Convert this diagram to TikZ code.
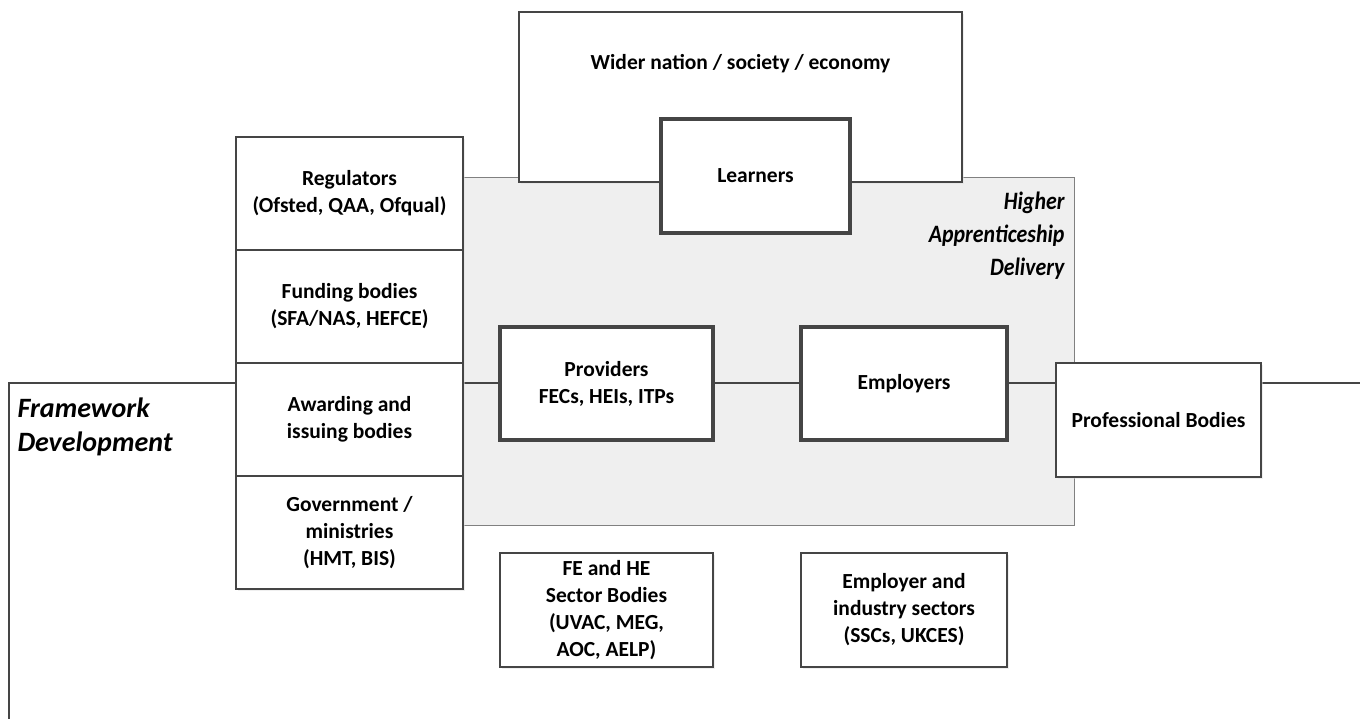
\documentclass[tikz,border=0pt]{standalone}
\usepackage{fontspec}
\setmainfont{Carlito}
\newfontfamily\narrowfont{Carlito}[FakeStretch=0.875]
\usetikzlibrary{shapes,shadows}
\definecolor{edgegray}{HTML}{454545}
\definecolor{areagray}{HTML}{EFEFEF}
\tikzset{
	box/.style      = {draw=edgegray, line width=1.6pt, fill=white, rectangle, align=center,
		font=\fontsize{21.5}{27}\selectfont\bfseries,
		drop shadow={shadow xshift=2pt, shadow yshift=-2pt, fill=black!12}},
	keybox/.style   = {box, line width=4pt},
	area/.style     = {draw=gray, line width=1pt, fill=areagray},
	title/.style    = {font=\narrowfont\fontsize{25}{33}\selectfont\bfseries\itshape},
	bigtitle/.style = {font=\fontsize{28}{34}\selectfont\bfseries\itshape}
}

\begin{document}
\begin{tikzpicture}[x=1pt, y=-1pt]
	\clip (0,0) rectangle (1360,718);
	\draw
	node at (757,351)[area, minimum width=634pt, minimum height=348pt] (deliv) {}
	node at (704,571)[draw=edgegray, line width=1.4pt, minimum width=1390pt, minimum height=376pt] (frame) {}
	;
	
	\draw
	node at (740.5,97)[box, minimum width=443pt, minimum height=170pt, text depth=70pt] (wider) {Wider nation / society / economy}
	node at (349.5,193.5)[box, minimum width=227pt, minimum height=113pt] (reg) {Regulators\\(Ofsted, QAA, Ofqual)}
	node at (349.5,306.5)[box, minimum width=227pt, minimum height=113pt] (fund) {Funding bodies\\(SFA/NAS, HEFCE)}
	node at (349.5,419.5)[box, minimum width=227pt, minimum height=113pt] (award) {Awarding and\\issuing bodies}
	node at (349.5,532.5)[box, minimum width=227pt, minimum height=113pt] (gov) {Government /\\ministries\\(HMT, BIS)}
	node at (755.5,176)[keybox, minimum width=189pt, minimum height=114pt] (learn) {Learners}
	node at (606.5,383.5)[keybox, minimum width=213pt, minimum height=113pt] (prov) {Providers\\FECs, HEIs, ITPs}
	node at (904,383.5)[keybox, minimum width=206pt, minimum height=113pt] (empl) {Employers}
	node at (1158.5,420)[box, minimum width=205pt, minimum height=114pt] (prof) {Professional Bodies}
	node at (606.5,610)[box, minimum width=213pt, minimum height=114pt] (sector) {FE and HE\\Sector Bodies\\(UVAC, MEG,\\AOC, AELP)}
	node at (904,610)[box, minimum width=206pt, minimum height=114pt] (industry) {Employer and\\industry sectors\\(SSCs, UKCES)}
	;
	
	\draw
	node at (14,394)[bigtitle, anchor=north west, align=left] (fwtitle) {Framework\\Development}
	node at (1068,188)[title, anchor=north east, align=right] (deltitle) {Higher\\Apprenticeship\\Delivery}
	;
\end{tikzpicture}
\end{document}
